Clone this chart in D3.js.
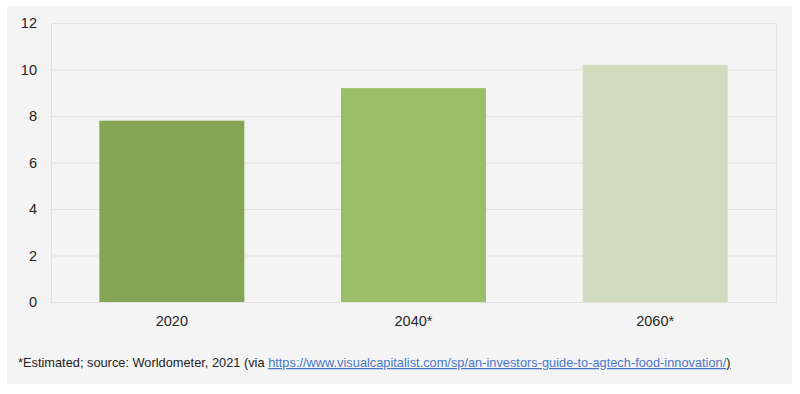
<!DOCTYPE html>
<html>
<head>
<meta charset="utf-8">
<script src="https://cdn.jsdelivr.net/npm/d3@7"></script>
<style>
  body { margin: 0; background: #ffffff; }
  svg { display: block; font-family: "Liberation Sans", Arial, sans-serif; }
</style>
</head>
<body>
<div class="chart"></div>
<script>
let width = 800,
    height = 394;

const categories = ["2020", "2040*", "2060*"];
const values = [7.8, 9.2, 10.2];
const barColors = ["#84a654", "#9bbf68", "#cfddbe"];
const yTicks = [0, 2, 4, 6, 8, 10, 12];
const footText = "*Estimated; source: Worldometer, 2021 (via ";
const footLink = "https://www.visualcapitalist.com/sp/an-investors-guide-to-agtech-food-innovation/";

const plot = { left: 51, right: 776, top: 23, bottom: 302 };

let svg = d3.select(".chart").append("svg")
    .attr("width", width)
    .attr("height", height);

// grey panel
svg.append("rect")
    .attr("x", 7)
    .attr("y", 6)
    .attr("width", 785)
    .attr("height", 378)
    .style("fill", "#f4f4f4");

let x = d3.scaleBand()
    .domain(categories)
    .range([plot.left, plot.right])
    .paddingInner(0.4)
    .paddingOuter(0.2);

let y = d3.scaleLinear()
    .domain([0, 12])
    .range([plot.bottom, plot.top]);

// gridlines
svg.append("g")
    .selectAll("line")
    .data(yTicks)
    .join("line")
    .attr("x1", plot.left)
    .attr("x2", plot.right)
    .attr("y1", d => y(d) + 0.5)
    .attr("y2", d => y(d) + 0.5)
    .style("stroke", "#e2e2e2")
    .style("stroke-width", 1);

// side borders
[plot.left, plot.right].forEach(px => {
    svg.append("line")
        .attr("x1", px + 0.5)
        .attr("x2", px + 0.5)
        .attr("y1", plot.top)
        .attr("y2", plot.bottom + 1)
        .style("stroke", "#e2e2e2");
});

// bars
svg.append("g")
    .selectAll("rect")
    .data(categories)
    .join("rect")
    .attr("x", d => x(d))
    .attr("width", x.bandwidth())
    .attr("y", (d, i) => y(values[i]))
    .attr("height", (d, i) => y(0) - y(values[i]))
    .style("fill", (d, i) => barColors[i]);

// y axis
let yAxis = svg.append("g")
    .attr("transform", `translate(${plot.left - 14},0)`)
    .call(d3.axisLeft(y).tickValues(yTicks).tickSize(0).tickPadding(0));
yAxis.select(".domain").remove();
yAxis.selectAll("text")
    .style("font-size", "14.5px")
    .style("fill", "#262626")
    .style("font-family", "Liberation Sans, Arial, sans-serif");

// x axis
let xAxis = svg.append("g")
    .attr("transform", `translate(0,${plot.bottom + 14})`)
    .call(d3.axisBottom(x).tickSize(0).tickPadding(0));
xAxis.select(".domain").remove();
xAxis.selectAll("text")
    .style("font-size", "14.5px")
    .style("fill", "#262626")
    .style("font-family", "Liberation Sans, Arial, sans-serif");

// footnote
let foot = svg.append("text")
    .attr("x", 18)
    .attr("y", 367)
    .style("font-size", "12.8px")
    .style("fill", "#222222");
foot.append("tspan").text(footText);
foot.append("tspan")
    .text(footLink)
    .style("fill", "#4a78c8")
    .style("text-decoration", "underline");
foot.append("tspan")
    .text(")")
    .style("text-decoration", "underline");
</script>
</body>
</html>
